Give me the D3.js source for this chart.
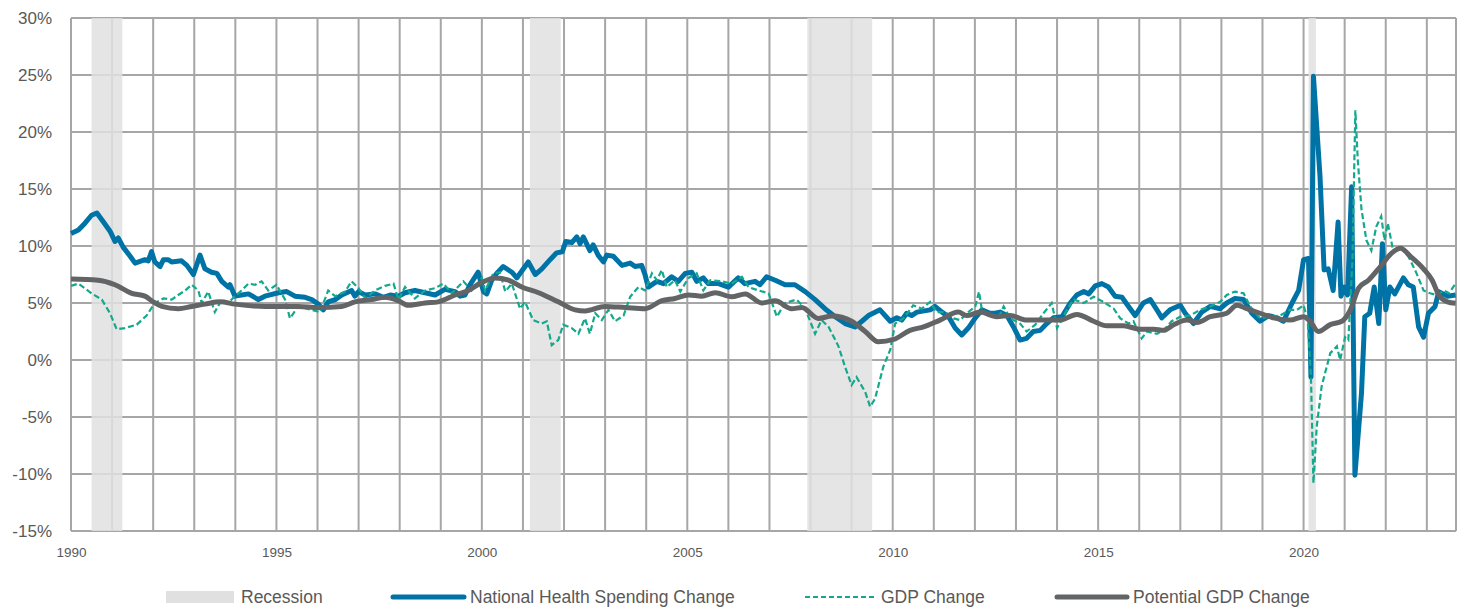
<!DOCTYPE html>
<html lang="en">
<head>
    <meta charset="UTF-8">
    <title>Health spending vs GDP</title>
    <script src="https://cdn.jsdelivr.net/npm/d3@7"></script>
    <style>
        body {
            margin: 0;
            background: #ffffff;
        }
        text {
            font-family: "Liberation Sans", Arial, sans-serif;
            fill: #595959;
        }
    </style>
</head>
<body>
    <div id="chart"></div>
    <script>
        // yearly change (%), x = decimal year
        const healthSpending = [
            [1990.0,11.1],[1990.18,11.4],[1990.34,12.0],[1990.5,12.7],[1990.63,12.9],[1990.79,12.1],[1990.95,11.3],[1991.07,10.4],[1991.15,10.7],[1991.27,9.9],
            [1991.44,9.1],[1991.56,8.5],[1991.8,8.8],[1991.88,8.7],[1991.96,9.5],[1992.04,8.6],[1992.17,8.2],[1992.25,8.8],[1992.37,8.8],[1992.45,8.6],
            [1992.69,8.7],[1992.82,8.3],[1992.98,7.5],[1993.14,9.2],[1993.26,8.0],[1993.42,7.7],[1993.55,7.6],[1993.67,6.9],[1993.83,6.4],[1993.87,6.6],
            [1993.99,5.6],[1994.15,5.7],[1994.32,5.8],[1994.56,5.3],[1994.72,5.6],[1995.05,5.9],[1995.25,6.0],[1995.45,5.6],[1995.7,5.5],[1995.86,5.3],
            [1996.02,4.9],[1996.14,4.4],[1996.26,5.1],[1996.43,5.3],[1996.59,5.7],[1996.83,6.1],[1996.91,5.6],[1997.0,6.0],[1997.16,5.7],[1997.4,5.8],
            [1997.6,5.5],[1997.77,5.7],[1997.97,5.6],[1998.13,5.9],[1998.37,6.1],[1998.62,5.9],[1998.86,5.7],[1999.1,6.2],[1999.35,6.0],[1999.47,5.6],
            [1999.59,5.7],[1999.71,6.6],[1999.91,7.7],[2000.04,6.0],[2000.12,5.8],[2000.24,7.0],[2000.36,7.6],[2000.52,8.2],[2000.73,7.7],[2000.85,7.2],
            [2001.13,8.6],[2001.3,7.5],[2001.46,8.0],[2001.66,8.8],[2001.82,9.4],[2001.96,9.5],[2002.04,10.4],[2002.19,10.3],[2002.31,10.8],[2002.39,10.2],
            [2002.47,10.8],[2002.63,9.6],[2002.71,10.1],[2002.83,9.2],[2002.96,8.6],[2003.04,9.2],[2003.2,9.1],[2003.41,8.3],[2003.61,8.5],[2003.73,8.2],
            [2003.89,8.3],[2003.97,7.5],[2004.05,6.4],[2004.26,6.9],[2004.42,6.7],[2004.62,7.3],[2004.78,6.9],[2004.95,7.6],[2005.11,7.7],[2005.23,6.9],
            [2005.39,7.2],[2005.51,6.7],[2005.76,6.7],[2006.0,6.4],[2006.24,7.2],[2006.4,6.7],[2006.65,6.9],[2006.77,6.6],[2006.93,7.3],[2007.14,7.0],
            [2007.38,6.6],[2007.62,6.6],[2007.87,6.0],[2008.11,5.3],[2008.35,4.5],[2008.6,3.8],[2008.84,3.2],[2009.08,2.9],[2009.25,3.4],[2009.41,3.9],
            [2009.69,4.4],[2009.94,3.4],[2010.1,3.7],[2010.22,3.5],[2010.34,4.1],[2010.46,3.9],[2010.59,4.2],[2010.91,4.4],[2011.03,4.7],[2011.2,4.2],
            [2011.36,3.8],[2011.52,2.8],[2011.68,2.2],[2011.84,2.8],[2012.01,3.7],[2012.17,4.4],[2012.37,4.1],[2012.49,4.1],[2012.61,4.2],[2012.78,3.9],
            [2012.94,2.9],[2013.1,1.75],[2013.26,1.9],[2013.42,2.5],[2013.59,2.6],[2013.75,3.2],[2013.91,3.7],[2014.12,3.8],[2014.32,5.0],[2014.48,5.7],
            [2014.65,6.0],[2014.77,5.8],[2014.93,6.5],[2015.09,6.7],[2015.25,6.4],[2015.41,5.6],[2015.58,5.5],[2015.74,4.7],[2015.9,3.9],[2016.1,5.0],
            [2016.27,5.3],[2016.43,4.4],[2016.55,3.7],[2016.75,4.4],[2017.0,4.8],[2017.12,4.1],[2017.32,3.2],[2017.52,4.2],[2017.73,4.7],[2017.97,4.5],
            [2018.13,5.0],[2018.33,5.4],[2018.54,5.3],[2018.74,4.1],[2018.94,3.4],[2019.15,3.9],[2019.35,3.7],[2019.51,3.4],[2019.72,5.0],[2019.88,6.1],
            [2020.0,8.8],[2020.12,8.9],[2020.18,-1.5],[2020.24,24.9],[2020.32,20.5],[2020.4,16.1],[2020.5,7.9],[2020.6,8.0],[2020.72,6.1],[2020.84,12.1],
            [2020.91,5.6],[2020.99,6.4],[2021.07,5.7],[2021.17,15.2],[2021.25,-10.1],[2021.41,-2.9],[2021.49,3.8],[2021.61,4.1],[2021.72,6.4],[2021.83,3.2],
            [2021.92,10.2],[2022.0,4.4],[2022.1,6.4],[2022.22,5.8],[2022.43,7.2],[2022.55,6.6],[2022.67,6.4],[2022.8,2.9],[2022.92,2.0],[2023.04,4.1],
            [2023.2,4.7],[2023.29,6.0],[2023.5,5.6],[2023.7,5.7]
        ];

        const gdpChange = [
            [1990.0,6.5],[1990.18,6.7],[1990.5,5.85],[1990.75,5.3],[1990.95,4.1],[1991.11,2.7],[1991.31,2.8],[1991.6,3.1],[1991.84,3.9],[1992.04,5.0],
            [1992.25,5.4],[1992.45,5.3],[1992.61,5.7],[1992.78,6.1],[1992.94,6.6],[1993.1,6.1],[1993.18,5.0],[1993.34,6.0],[1993.5,4.2],[1993.67,5.3],
            [1993.83,5.0],[1993.99,5.6],[1994.15,6.1],[1994.32,6.7],[1994.48,6.6],[1994.64,6.9],[1994.8,6.1],[1995.0,6.6],[1995.21,5.3],[1995.33,3.65],
            [1995.53,4.7],[1995.86,4.4],[1996.06,4.2],[1996.26,6.1],[1996.43,5.6],[1996.67,6.0],[1996.83,6.9],[1997.0,6.3],[1997.16,5.4],[1997.4,6.1],
            [1997.64,6.5],[1997.85,6.7],[1997.97,5.3],[1998.13,6.4],[1998.37,5.4],[1998.62,6.1],[1998.86,6.3],[1999.06,6.7],[1999.27,5.85],[1999.55,6.9],
            [1999.75,6.1],[2000.0,7.2],[2000.08,6.1],[2000.28,7.6],[2000.44,7.7],[2000.57,6.0],[2000.73,6.7],[2000.93,4.5],[2001.05,5.1],[2001.25,3.5],
            [2001.46,3.2],[2001.58,3.4],[2001.7,1.3],[2001.86,1.75],[2001.98,3.1],[2002.19,2.8],[2002.35,2.3],[2002.51,3.65],[2002.63,2.3],[2002.76,4.1],
            [2002.92,3.5],[2003.08,4.4],[2003.24,3.4],[2003.45,3.9],[2003.61,5.55],[2003.81,6.4],[2003.97,6.1],[2004.14,7.6],[2004.26,7.0],[2004.38,7.9],
            [2004.5,6.4],[2004.7,7.0],[2004.83,6.0],[2005.03,7.2],[2005.23,7.6],[2005.39,6.1],[2005.56,7.0],[2005.84,6.9],[2006.08,6.7],[2006.33,7.3],
            [2006.49,6.4],[2006.73,6.1],[2006.98,5.85],[2007.18,3.8],[2007.38,5.0],[2007.66,5.3],[2007.87,4.5],[2008.11,2.3],[2008.27,3.5],[2008.44,2.9],
            [2008.68,1.2],[2008.84,-0.6],[2009.0,-2.2],[2009.12,-1.5],[2009.33,-2.8],[2009.45,-4.1],[2009.57,-3.4],[2009.77,-0.6],[2009.94,0.9],[2010.06,3.2],
            [2010.26,3.65],[2010.5,4.8],[2010.71,4.5],[2010.91,5.1],[2011.07,4.2],[2011.28,4.2],[2011.48,3.65],[2011.64,3.5],[2011.84,4.2],[2012.01,4.7],
            [2012.1,6.0],[2012.17,4.4],[2012.37,3.9],[2012.57,3.65],[2012.7,4.7],[2012.86,3.65],[2013.1,3.2],[2013.26,2.5],[2013.47,3.1],[2013.67,4.1],
            [2013.87,5.0],[2014.0,2.8],[2014.24,4.4],[2014.4,5.3],[2014.65,5.0],[2014.89,5.55],[2015.13,5.1],[2015.38,4.5],[2015.54,3.65],[2015.74,3.2],
            [2015.86,3.4],[2016.06,1.9],[2016.19,2.5],[2016.43,2.3],[2016.59,2.6],[2016.79,3.4],[2017.0,3.8],[2017.24,3.9],[2017.48,4.4],[2017.73,4.7],
            [2017.97,5.1],[2018.13,5.7],[2018.33,6.0],[2018.54,5.85],[2018.7,4.7],[2018.94,3.65],[2019.19,3.8],[2019.43,3.9],[2019.67,4.4],[2019.84,4.4],
            [2020.0,4.8],[2020.1,3.5],[2020.18,-1.5],[2020.24,-10.8],[2020.32,-5.85],[2020.44,-2.3],[2020.65,0.6],[2020.81,1.2],[2020.89,0.0],[2021.01,2.0],
            [2021.09,1.75],[2021.19,8.8],[2021.26,21.9],[2021.32,17.5],[2021.41,13.2],[2021.53,10.5],[2021.65,9.6],[2021.77,11.7],[2021.89,12.6],[2021.97,10.5],
            [2022.05,12.0],[2022.18,9.6],[2022.34,9.9],[2022.55,9.1],[2022.75,7.6],[2022.92,6.1],[2023.08,5.85],[2023.25,5.7],[2023.42,6.1],[2023.54,5.85],
            [2023.7,6.7]
        ];

        const potentialGdpChange = [
            [1990.0,7.1],[1990.66,7.0],[1991.07,6.6],[1991.48,5.85],[1991.8,5.6],[1992.0,5.1],[1992.21,4.7],[1992.61,4.5],[1992.94,4.7],[1993.26,4.9],
            [1993.63,5.1],[1993.99,4.9],[1994.72,4.7],[1995.53,4.7],[1996.02,4.6],[1996.59,4.7],[1996.91,5.1],[1997.32,5.3],[1997.64,5.5],[1997.97,5.2],
            [1998.21,4.8],[1998.62,5.0],[1998.94,5.1],[1999.35,5.7],[1999.67,6.1],[2000.0,6.8],[2000.32,7.2],[2000.65,7.0],[2000.97,6.4],[2001.38,5.9],
            [2001.86,5.1],[2002.27,4.4],[2002.51,4.3],[2003.0,4.7],[2003.49,4.6],[2003.97,4.5],[2004.38,5.2],[2004.7,5.4],[2005.03,5.7],[2005.35,5.6],
            [2005.68,5.9],[2006.08,5.55],[2006.41,5.8],[2006.81,5.0],[2007.14,5.2],[2007.54,4.5],[2007.79,4.6],[2008.19,3.65],[2008.52,3.85],[2009.0,3.4],
            [2009.33,2.5],[2009.65,1.6],[2010.02,1.8],[2010.42,2.6],[2010.75,2.9],[2011.15,3.5],[2011.6,4.2],[2011.8,3.9],[2012.13,4.2],[2012.53,3.8],
            [2012.86,3.9],[2013.26,3.5],[2013.75,3.5],[2014.07,3.5],[2014.48,4.0],[2014.89,3.4],[2015.21,3.0],[2015.62,3.0],[2016.02,2.7],[2016.35,2.7],
            [2016.59,2.6],[2016.84,3.1],[2017.16,3.5],[2017.41,3.3],[2017.73,3.8],[2018.13,4.1],[2018.38,4.8],[2018.62,4.5],[2018.94,4.1],[2019.27,3.7],
            [2019.67,3.5],[2020.0,3.8],[2020.16,3.4],[2020.36,2.5],[2020.65,3.1],[2020.93,3.4],[2021.14,4.4],[2021.34,6.3],[2021.58,7.0],[2021.87,8.2],
            [2022.15,9.4],[2022.36,9.8],[2022.6,9.1],[2022.92,8.0],[2023.13,7.0],[2023.29,5.7],[2023.5,5.1],[2023.7,4.97]
        ];

        const recessions = [[1990.5, 1991.25], [2001.17, 2001.92], [2007.92, 2009.5], [2020.12, 2020.3]];

        const yTicks = [-15, -10, -5, 0, 5, 10, 15, 20, 25, 30];
        const xLabelYears = [1990, 1995, 2000, 2005, 2010, 2015, 2020];
        const gridYears = d3.range(1990, 2024);

        const legendItems = ["Recession", "National Health Spending Change", "GDP Change", "Potential GDP Change"];

        const W = 1465, H = 610;
        const margin = {top: 18, right: 9, bottom: 79, left: 71};

        const svg = d3.select("#chart")
            .append("svg")
            .attr("width", W)
            .attr("height", H);

        const x = d3.scaleLinear()
            .domain([1990, 2023.71])
            .range([margin.left, W - margin.right]);
        const y = d3.scaleLinear()
            .domain([-15, 30])
            .range([H - margin.bottom, margin.top]);

        const gridColor = "#a6a6a6";

        // grid
        const grid = svg.append("g");
        grid.selectAll(".hgrid")
            .data(yTicks)
            .enter()
            .append("line")
            .attr("x1", x(1990)).attr("x2", x.range()[1])
            .attr("y1", d => y(d)).attr("y2", d => y(d))
            .attr("stroke", gridColor)
            .attr("stroke-width", 2);
        grid.selectAll(".vgrid")
            .data(gridYears.concat([x.domain()[1]]))
            .enter()
            .append("line")
            .attr("x1", d => x(d)).attr("x2", d => x(d))
            .attr("y1", y(30)).attr("y2", y(-15))
            .attr("stroke", gridColor)
            .attr("stroke-width", 2);

        // recession bands on top of grid
        svg.append("g")
            .selectAll("rect")
            .data(recessions)
            .enter()
            .append("rect")
            .attr("x", d => x(d[0]))
            .attr("width", d => x(d[1]) - x(d[0]))
            .attr("y", y(30))
            .attr("height", y(-15) - y(30))
            .attr("fill", "#e0e0e0")
            .attr("opacity", 0.85);

        // y axis labels
        svg.append("g")
            .attr("transform", `translate(${margin.left},0)`)
            .call(d3.axisLeft(y).tickValues(yTicks).tickSize(0).tickPadding(19).tickFormat(d => d + "%"))
            .call(g => g.select(".domain").remove())
            .call(g => g.selectAll("text").attr("font-size", 17).attr("fill", "#595959")
                .style("font-family", "'Liberation Sans', Arial, sans-serif"));

        // x axis labels
        svg.append("g")
            .attr("transform", `translate(0,${y(-15)})`)
            .call(d3.axisBottom(x).tickValues(xLabelYears).tickSize(0).tickPadding(16).tickFormat(d3.format("d")))
            .call(g => g.select(".domain").remove())
            .call(g => g.selectAll("text").attr("font-size", 13.5).attr("fill", "#595959")
                .style("font-family", "'Liberation Sans', Arial, sans-serif"));

        const line = d3.line()
            .x(d => x(d[0]))
            .y(d => y(d[1]));

        const blue = "#0073a6", green = "#14a98c", gray = "#636466";

        svg.append("path")
            .datum(healthSpending)
            .attr("d", line)
            .attr("fill", "none")
            .attr("stroke", blue)
            .attr("stroke-width", 5)
            .attr("stroke-linejoin", "round");

        svg.append("path")
            .datum(gdpChange)
            .attr("d", line)
            .attr("fill", "none")
            .attr("stroke", green)
            .attr("stroke-width", 2.2)
            .attr("stroke-dasharray", "6,3");

        svg.append("path")
            .datum(potentialGdpChange)
            .attr("d", line.curve(d3.curveMonotoneX))
            .attr("fill", "none")
            .attr("stroke", gray)
            .attr("stroke-width", 5)
            .attr("stroke-linejoin", "round");

        // legend
        const legendX = [166, 393, 805, 1057];
        const legendY = 597;
        const leg = svg.append("g");
        leg.append("rect")
            .attr("x", legendX[0]).attr("y", legendY - 6)
            .attr("width", 68).attr("height", 12)
            .attr("fill", "#e0e0e0");
        leg.append("line")
            .attr("x1", legendX[1]).attr("x2", legendX[1] + 71)
            .attr("y1", legendY).attr("y2", legendY)
            .attr("stroke", blue).attr("stroke-width", 5).attr("stroke-linecap", "round");
        leg.append("line")
            .attr("x1", legendX[2]).attr("x2", legendX[2] + 70)
            .attr("y1", legendY).attr("y2", legendY)
            .attr("stroke", green).attr("stroke-width", 2.2).attr("stroke-dasharray", "5,3");
        leg.append("line")
            .attr("x1", legendX[3]).attr("x2", legendX[3] + 70)
            .attr("y1", legendY).attr("y2", legendY)
            .attr("stroke", gray).attr("stroke-width", 5).attr("stroke-linecap", "round");
        const textOffset = [75, 77, 76, 76];
        leg.selectAll("text")
            .data(legendItems)
            .enter()
            .append("text")
            .attr("x", (d, i) => legendX[i] + textOffset[i])
            .attr("y", legendY)
            .attr("dy", "0.35em")
            .attr("font-size", 17.5)
            .text(d => d);
    </script>
</body>
</html>
